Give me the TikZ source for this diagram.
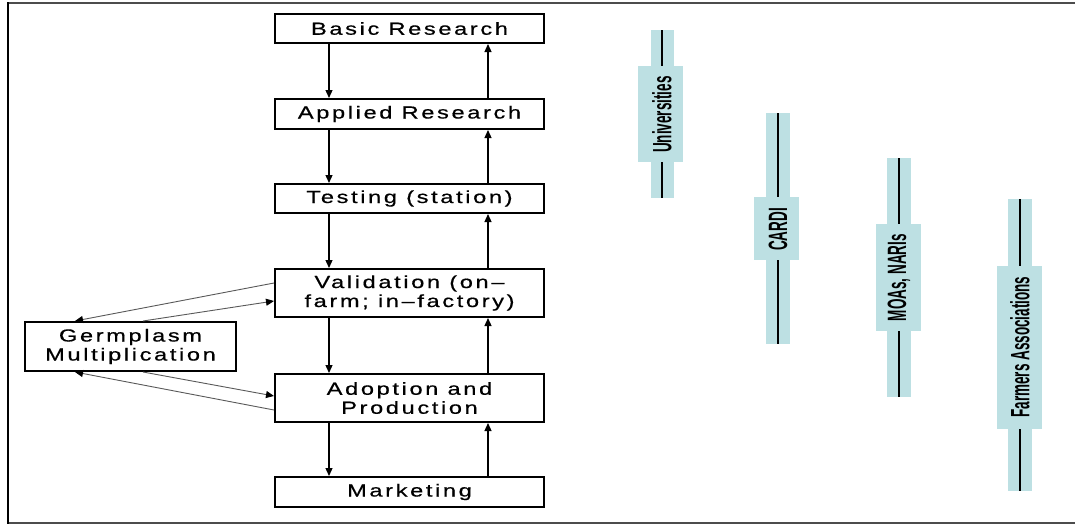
\documentclass[tikz,border=0pt]{standalone}
\usepackage{fontspec}
\setmainfont{Liberation Sans}
\newfontfamily\boxfont[LetterSpace=15,FakeStretch=1.35,FakeBold=0.6]{Liberation Sans}
\usetikzlibrary{arrows.meta}
\definecolor{barteal}{HTML}{BDE0E3}
\newcommand{\barlabel}[1]{\scalebox{1.35}[2.65]{\bfseries #1}}
\begin{document}
\begin{tikzpicture}[x=1pt,y=-1pt,
  box/.style={draw, line width=2pt, inner sep=0pt, align=center,
    font=\boxfont\fontsize{17.5}{19}\selectfont},
  mainbox/.style={box, minimum width=269pt},
  arr/.style={line width=1.3pt, -{Triangle[length=8pt,width=7pt]}},
  garr/.style={draw=black!65, line width=0.9pt, -{Triangle[length=8pt,width=7pt,black]}},
  barline/.style={line width=2.5pt, black},
  lab/.style={rotate=90, inner sep=0pt}
]
\useasboundingbox (0,0) rectangle (1075,525);
% frame
\draw[black!70, line width=2pt] (1080,3) -- (8,3);
\draw[black!70, line width=2pt] (8,523) -- (1080,523);
\draw[black, line width=2.5pt] (8,2) -- (8,524);

% boxes
\node[mainbox, minimum height=29pt] (basic) at (409.5,28.5) {Basic Research};
\node[mainbox, minimum height=30pt] (applied) at (409.5,114) {Applied Research};
\node[mainbox, minimum height=29pt] (testing) at (409.5,198.5) {Testing (station)};
\node[mainbox, minimum height=48pt] (valid) at (409.5,293) {Validation (on–\\farm; in–factory)};
\node[mainbox, minimum height=48pt] (adopt) at (409.5,398) {Adoption and\\Production};
\node[mainbox, minimum height=30pt] (market) at (409.5,492) {Marketing};
\node[box, minimum width=211pt, minimum height=49pt] (germ) at (130.5,346.5) {Germplasm\\Multiplication};

\coordinate (dl) at (329,0);
\coordinate (ul) at (488,0);
\foreach \a/\b in {basic/applied, applied/testing, testing/valid, valid/adopt, adopt/market}{
  \draw[arr] (\a.south -| dl) -- (\b.north -| dl);
  \draw[arr] (\b.north -| ul) -- (\a.south -| ul);
}

% germplasm links
\draw[garr] ([yshift=10pt]valid.west) -- ([xshift=-55.5pt]germ.north);
\draw[garr] ([xshift=12.5pt]germ.north) -- ([yshift=-8pt]valid.west);
\draw[garr] ([xshift=12.5pt]germ.south) -- ([yshift=2pt]adopt.west);
\draw[garr] ([yshift=-12pt]adopt.west) -- ([xshift=-55.5pt]germ.south);

% bars
\fill[barteal] (651,30) rectangle (674,198);
\fill[barteal] (638,66) rectangle (683,162);
\draw[barline] (662,30) -- (662,66) (662,162) -- (662,198);
\node[lab] (uni) at (662,114.5) {\barlabel{Universities}};

\fill[barteal] (766,113) rectangle (790,344);
\fill[barteal] (754,197) rectangle (799,260);
\draw[barline] (778,113) -- (778,197) (778,260) -- (778,344);
\node[lab] (cardi) at (778,229.5) {\barlabel{CARDI}};

\fill[barteal] (887,158) rectangle (911,397);
\fill[barteal] (876,224) rectangle (921,331);
\draw[barline] (899,158) -- (899,224) (899,331) -- (899,397);
\node[lab] (moa) at (899,277.5) {\barlabel{MOAs, NARIs}};

\fill[barteal] (1008,199) rectangle (1032,491);
\fill[barteal] (997,266) rectangle (1042,429);
\draw[barline] (1020,199) -- (1020,266) (1020,429) -- (1020,491);
\node[lab] (farm) at (1020,347) {\barlabel{Farmers Associations}};
\end{tikzpicture}
\end{document}
